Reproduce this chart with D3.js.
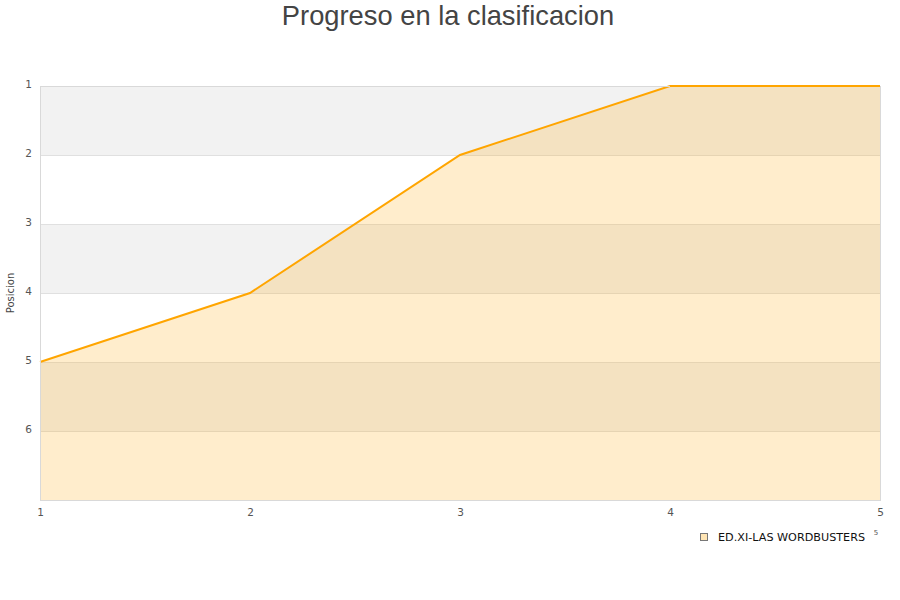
<!DOCTYPE html>
<html><head><meta charset="utf-8">
<script src="https://cdn.jsdelivr.net/npm/d3@7"></script>
<style>body{margin:0;background:#fff;} text{font-family:"DejaVu Sans",sans-serif;}</style>
</head><body>
<svg id="c" width="900" height="600"></svg>
<script>
const rounds = [1, 2, 3, 4, 5];
const positions = [5, 4, 2, 1, 1];
const yTicks = [1, 2, 3, 4, 5, 6];
const seriesName = "ED.XI-LAS WORDBUSTERS";
const title = "Progreso en la clasificacion";
const yLabel = "Posicion";

const svg = d3.select("#c");
const L = 40, R = 880, T = 86, B = 500;
const x = d3.scaleLinear().domain([1, 5]).range([L, R]);
const y = d3.scaleLinear().domain([1, 7]).range([T, B]);

// alternating bands
const bands = d3.range(1, 7);
svg.selectAll("rect.band").data(bands).enter().append("rect")
  .attr("x", L).attr("width", R - L)
  .attr("y", d => y(d)).attr("height", d => y(d + 1) - y(d))
  .attr("fill", (d, i) => i % 2 === 0 ? "#f2f2f2" : "#ffffff");

// gridlines
svg.selectAll("line.grid").data(yTicks).enter().append("line")
  .attr("x1", L).attr("x2", R).attr("y1", d => y(d)).attr("y2", d => y(d))
  .attr("stroke", "#e0e0e0").attr("stroke-width", 1).attr("shape-rendering", "crispEdges");

const data = rounds.map((r, i) => ({r, p: positions[i]}));
svg.append("path").datum(data)
  .attr("d", d3.area().x(d => x(d.r)).y0(y(7)).y1(d => y(d.p)))
  .attr("fill", "#ffa500").attr("fill-opacity", 0.2);

svg.append("path").datum(data)
  .attr("d", d3.line().x(d => x(d.r)).y(d => y(d.p)))
  .attr("fill", "none").attr("stroke", "#ffa500").attr("stroke-width", 2);

// border
svg.append("path").attr("d", `M${L},${T}V${B}H${R}V${T}`)
  .attr("fill", "none").attr("stroke", "#d9d9d9").attr("shape-rendering", "crispEdges");
svg.append("line").attr("x1", L).attr("x2", x(4)).attr("y1", T).attr("y2", T)
  .attr("stroke", "#d9d9d9").attr("shape-rendering", "crispEdges");

// y axis
const ya = svg.append("g").attr("transform", `translate(${L - 8},0)`)
  .call(d3.axisLeft(y).tickValues(yTicks).tickSize(0).tickPadding(0).tickFormat(d3.format("d")));
ya.select(".domain").remove();
ya.selectAll("text").attr("fill", "#555").style("font-size", "10.5px").attr("dy", "0.1em");

// x axis
const xa = svg.append("g").attr("transform", `translate(0,${B + 9})`)
  .call(d3.axisBottom(x).tickValues(rounds).tickSize(0).tickPadding(0).tickFormat(d3.format("d")));
xa.select(".domain").remove();
xa.selectAll("text").attr("fill", "#555").style("font-size", "10.5px");

svg.append("text").attr("x", 448).attr("y", 25).attr("text-anchor", "middle")
  .style("font-family", "'Liberation Sans',Arial,sans-serif").style("font-size", "27.3px").attr("fill", "#444").text(title);

svg.append("text").attr("transform", `translate(14,${(T + B) / 2}) rotate(-90)`)
  .attr("text-anchor", "middle").attr("fill", "#444").style("font-size", "10px").text(yLabel);

// legend
svg.append("rect").attr("x", 700.5).attr("y", 533.5).attr("width", 7).attr("height", 7)
  .attr("fill", "#ffe5b4").attr("stroke", "#777");
svg.append("text").attr("x", 718).attr("y", 540.5).attr("fill", "#111").style("font-size", "11.2px").text(seriesName);
svg.append("text").attr("x", 876).attr("y", 535).attr("text-anchor", "middle").attr("fill", "#555").style("font-size", "7px").text(String(rounds[rounds.length - 1]));
</script>
</body></html>
